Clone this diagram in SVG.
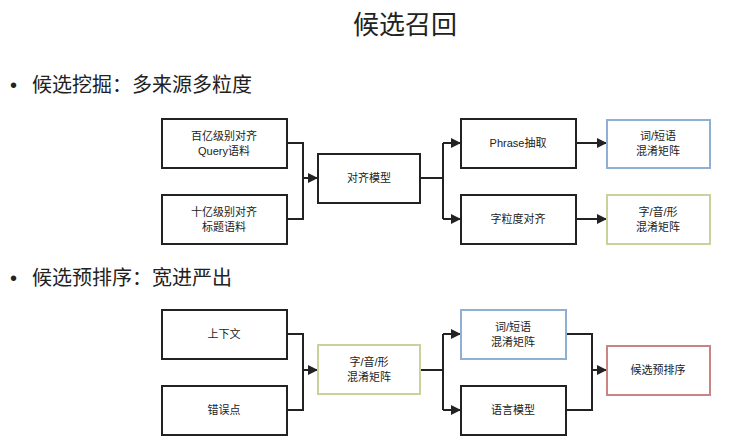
<svg xmlns="http://www.w3.org/2000/svg" width="731" height="440" viewBox="0 0 731 440">
<defs>
<marker id="ar" viewBox="0 0 10 10" refX="9" refY="5" markerWidth="5" markerHeight="5" orient="auto"><path d="M0,0L10,5L0,10z" fill="#222"/></marker>
<style>
text{font-family:"Liberation Sans","Noto Sans CJK SC",sans-serif;fill:#222}
.n{fill:#fff;stroke:#222;stroke-width:2}
.b{stroke:#8fb0d4}.g{stroke:#c9d29a}.r{stroke:#c98585}
.t{font-size:11px;text-anchor:middle}
.c path{fill:none;stroke:#222;stroke-width:2}
.a{marker-end:url(#ar)}
</style>
</defs>
<rect width="731" height="440" fill="#fff"/>
<text x="405" y="34" font-size="26" text-anchor="middle">候选召回</text>
<text x="10" y="92" font-size="20">•</text>
<text x="32" y="92" font-size="20">候选挖掘：多来源多粒度</text>
<text x="10" y="285" font-size="20">•</text>
<text x="32" y="285" font-size="20">候选预排序：宽进严出</text>
<g class="c">
<path d="M287,143H303V219H287"/>
<path class="a" d="M303,178H317"/>
<path d="M420,178H443M443,143V219"/>
<path class="a" d="M443,143H460"/><path class="a" d="M443,219H460"/>
<path class="a" d="M576,143H606"/><path class="a" d="M576,219H606"/>
<path d="M287,334H303V410H287"/>
<path class="a" d="M303,370H317"/>
<path d="M420,370H443M443,334V410"/>
<path class="a" d="M443,334H460"/><path class="a" d="M443,410H460"/>
<path d="M566,334H592V410H566"/>
<path class="a" d="M592,370H606"/>
</g>
<g id="n1"><rect class="n" x="162" y="119" width="125" height="49"/><text class="t" x="224" y="140">百亿级别对齐</text><text class="t" x="224" y="155">Query语料</text></g>
<g id="n2"><rect class="n" x="162" y="195" width="125" height="49"/><text class="t" x="224" y="216">十亿级别对齐</text><text class="t" x="224" y="231">标题语料</text></g>
<g id="n3"><rect class="n" x="318" y="154" width="102" height="49"/><text class="t" x="369" y="182">对齐模型</text></g>
<g id="n4"><rect class="n" x="461" y="119" width="115" height="49"/><text class="t" x="518" y="147">Phrase抽取</text></g>
<g id="n5"><rect class="n" x="461" y="195" width="115" height="49"/><text class="t" x="518" y="223">字粒度对齐</text></g>
<g id="n6"><rect class="n b" x="607" y="120" width="103" height="48"/><text class="t" x="658" y="140">词/短语</text><text class="t" x="658" y="155">混淆矩阵</text></g>
<g id="n7"><rect class="n g" x="607" y="195" width="103" height="49"/><text class="t" x="658" y="216">字/音/形</text><text class="t" x="658" y="231">混淆矩阵</text></g>
<g id="n8"><rect class="n" x="162" y="310" width="125" height="49"/><text class="t" x="224" y="338">上下文</text></g>
<g id="n9"><rect class="n" x="162" y="386" width="125" height="49"/><text class="t" x="224" y="414">错误点</text></g>
<g id="n10"><rect class="n g" x="318" y="345" width="102" height="49"/><text class="t" x="369" y="366">字/音/形</text><text class="t" x="369" y="381">混淆矩阵</text></g>
<g id="n11"><rect class="n b" x="461" y="310" width="105" height="49"/><text class="t" x="513" y="331">词/短语</text><text class="t" x="513" y="346">混淆矩阵</text></g>
<g id="n12"><rect class="n" x="461" y="386" width="105" height="49"/><text class="t" x="513" y="414">语言模型</text></g>
<g id="n13"><rect class="n r" x="607" y="346" width="103" height="49"/><text class="t" x="658" y="374">候选预排序</text></g>
</svg>
